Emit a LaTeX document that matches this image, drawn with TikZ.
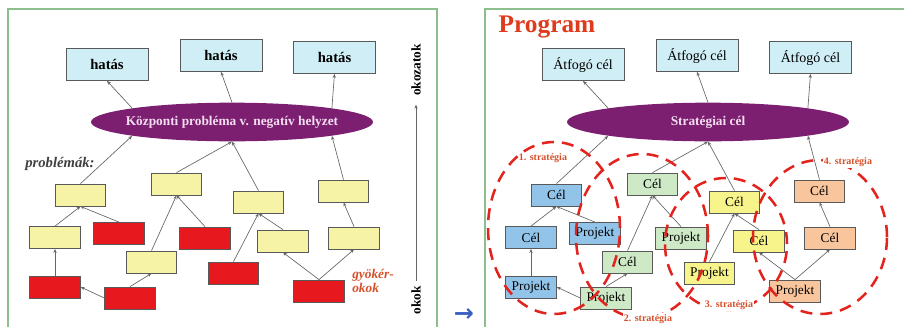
\documentclass[tikz,border=0pt]{standalone}
\usepackage{fontspec}
\setmainfont{Liberation Serif}
\newfontfamily\symfont{DejaVu Sans}
\usetikzlibrary{shapes.geometric, arrows.meta, positioning}

\definecolor{effblue}{HTML}{CFEEF5}
\definecolor{probyel}{HTML}{F6F2A6}
\definecolor{rootred}{HTML}{E8191E}
\definecolor{corepurple}{HTML}{7C1F70}
\definecolor{coretext}{HTML}{F3DDF0}
\definecolor{celblue}{HTML}{92C4EA}
\definecolor{celgreen}{HTML}{CDE9C6}
\definecolor{celyel}{HTML}{F8F48C}
\definecolor{celorange}{HTML}{F8C59C}
\definecolor{stratred}{HTML}{E3241E}
\definecolor{labred}{HTML}{D4502A}
\definecolor{progred}{HTML}{E03A1C}
\definecolor{framegreen}{HTML}{8DBE8D}
\definecolor{arrblue}{HTML}{3A5EC0}

\begin{document}
\begin{tikzpicture}[
            x=0.75pt, y=-0.75pt,
            box/.style={rectangle, draw=black!65, line width=0.6pt, minimum width=38pt, minimum height=16.5pt, inner sep=0pt, font=\fontsize{10}{12}\selectfont},
            effect/.style={box, fill=effblue, minimum width=61.5pt, minimum height=24pt, font=\fontsize{11}{12}\selectfont\bfseries},
            aim/.style={box, fill=effblue, minimum width=61.5pt, minimum height=24pt, font=\fontsize{10.5}{12}\selectfont},
            prob/.style={box, fill=probyel},
            root/.style={box, fill=rootred},
            core/.style={ellipse, fill=corepurple, minimum width=211.5pt, minimum height=29pt, inner xsep=-30pt, inner ysep=0pt, text=coretext, font=\fontsize{10}{12}\selectfont\bfseries},
            link/.style={draw=black!60, line width=0.5pt, -{Stealth[length=3pt, width=2.5pt]}},
            stratring/.style={ellipse, draw=stratred, line width=1.9pt, dash pattern=on 9pt off 6pt, inner sep=0pt},
            stratlabel/.style={font=\fontsize{7.5}{9}\selectfont\bfseries, text=labred, inner sep=1pt},
            frame/.style={draw=framegreen, line width=1.5pt}
        ]
            \useasboundingbox (0,0) rectangle (904,326);
            \clip (0,0) rectangle (904,326);
            \draw[frame] (8,9) rectangle (437,345);
            \draw[frame] (485,9) rectangle (915,345);

            % problem tree
            \node[effect] (hat1) at (107,64.5) {hatás};
            \node[effect] (hat2) at (221,55.5) {hatás};
            \node[effect] (hat3) at (334.5,57.5) {hatás};
            \node[core] (core) at (232,122) {Központi probléma v. negatív helyzet};
            \node[prob] (p1) at (80.5,195) {};
            \node[prob] (p2) at (176.5,184) {};
            \node[prob] (p3) at (258.5,202) {};
            \node[prob] (p4) at (343.5,191) {};
            \node[prob] (p5) at (55,237.5) {};
            \node[prob] (p6) at (151.5,262) {};
            \node[prob] (p7) at (283,241) {};
            \node[prob] (p8) at (354,238) {};
            \node[root] (r1) at (119,233.5) {};
            \node[root] (r2) at (205,238) {};
            \node[root] (r3) at (55,287) {};
            \node[root] (r4) at (130,298) {};
            \node[root] (r5) at (233.5,273) {};
            \node[root] (r6) at (319,291) {};
            \node[font=\fontsize{11}{12}\selectfont\bfseries\itshape, text=black!75] (probs) at (60,164) {problémák:};
            \node[font=\fontsize{10}{10}\selectfont\bfseries\itshape, text=labred, align=left] (roots) at (373,281) {gyökér-\\okok};
            \node[rotate=90, font=\fontsize{10}{12}\selectfont\bfseries] (okoz) at (416,70) {okozatok};
            \node[rotate=90, font=\fontsize{10}{12}\selectfont\bfseries] (okok) at (416,300) {okok};

            \draw[link] (core.north west) -- (hat1.south);
            \draw[link] (core.north) -- (hat2.south);
            \draw[link] (core.north east) -- (hat3.south);
            \draw[link] (p1.north) -- (core.south west);
            \draw[link] (p2.north) -- (core.south);
            \draw[link] (p3.north) -- (core.south);
            \draw[link] (p4.north) -- (core.south east);
            \draw[link] (p5.north) -- (p1.south);
            \draw[link] (r1.north) -- (p1.south);
            \draw[link] (r3.north) -- (p5.south);
            \draw[link] (r4.west) -- (r3.east);
            \draw[link] (r4.north) -- (p6.south);
            \draw[link] (p6.north) -- (p2.south);
            \draw[link] (r2.north) -- (p2.south);
            \draw[link] (r5.north) -- (p3.south);
            \draw[link] (p7.north) -- (p3.south);
            \draw[link] (r6.north) -- (p7.south);
            \draw[link] (r6.north) -- (p8.south);
            \draw[link] (p8.north) -- (p4.south);
            \draw[link, shorten >=3pt] (okok) -- (okoz);

            \node[font=\symfont\fontsize{18}{18}\selectfont\bfseries, text=arrblue] (next) at (464,315) {→};

            % program tree
            \node[font=\fontsize{19}{20}\selectfont\bfseries, text=progred] (prog) at (547,27) {Program};
            \node[aim] (atf1) at (583,64.5) {Átfogó cél};
            \node[aim] (atf2) at (697,55.5) {Átfogó cél};
            \node[aim] (atf3) at (810.5,57.5) {Átfogó cél};
            \node[core, inner xsep=0pt] (strat) at (708,122) {Stratégiai cél};
            \node[box, fill=celblue] (c1) at (556.5,195) {Cél};
            \node[box, fill=celgreen] (c2) at (652.5,184) {Cél};
            \node[box, fill=celyel] (c3) at (734.5,202) {Cél};
            \node[box, fill=celorange] (c4) at (819.5,191) {Cél};
            \node[box, fill=celblue] (c5) at (531,237.5) {Cél};
            \node[box, fill=celgreen] (c6) at (627.5,262) {Cél};
            \node[box, fill=celyel] (c7) at (759,241) {Cél};
            \node[box, fill=celorange] (c8) at (830,238) {Cél};
            \node[box, fill=celblue] (pj1) at (595,233.5) {Projekt};
            \node[box, fill=celgreen] (pj2) at (681,238) {Projekt};
            \node[box, fill=celblue] (pj3) at (531,287) {Projekt};
            \node[box, fill=celgreen] (pj4) at (606,298) {Projekt};
            \node[box, fill=celyel] (pj5) at (709.5,273) {Projekt};
            \node[box, fill=celorange] (pj6) at (795,291) {Projekt};

            \draw[link] (strat.north west) -- (atf1.south);
            \draw[link] (strat.north) -- (atf2.south);
            \draw[link] (strat.north east) -- (atf3.south);
            \draw[link] (c1.north) -- (strat.south west);
            \draw[link] (c2.north) -- (strat.south);
            \draw[link] (c3.north) -- (strat.south);
            \draw[link] (c4.north) -- (strat.south east);
            \draw[link] (c5.north) -- (c1.south);
            \draw[link] (pj1.north) -- (c1.south);
            \draw[link] (pj3.north) -- (c5.south);
            \draw[link] (pj4.west) -- (pj3.east);
            \draw[link] (pj4.north) -- (c6.south);
            \draw[link] (c6.north) -- (c2.south);
            \draw[link] (pj2.north) -- (c2.south);
            \draw[link] (pj5.north) -- (c3.south);
            \draw[link] (c7.north) -- (c3.south);
            \draw[link] (pj6.north) -- (c7.south);
            \draw[link] (pj6.north) -- (c8.south);
            \draw[link] (c8.north) -- (c4.south);

            % strategies
            \node[stratring, minimum width=99pt, minimum height=129pt] (ring1) at (554,228) {};
            \node[stratring, minimum width=99pt, minimum height=123pt] (ring2) at (642,236) {};
            \node[stratring, minimum width=91.5pt, minimum height=99pt] (ring3) at (726,244) {};
            \node[stratring, minimum width=100.5pt, minimum height=115.5pt] (ring4) at (820,237) {};
            \node[stratlabel] (lab1) at (543,158) {1. stratégia};
            \node[stratlabel, fill=white] (lab2) at (648,319) {2. stratégia};
            \node[stratlabel, fill=white] (lab3) at (729,305) {3. stratégia};
            \node[stratlabel, fill=white] (lab4) at (848,162) {4. stratégia};
        \end{tikzpicture}
\end{document}
